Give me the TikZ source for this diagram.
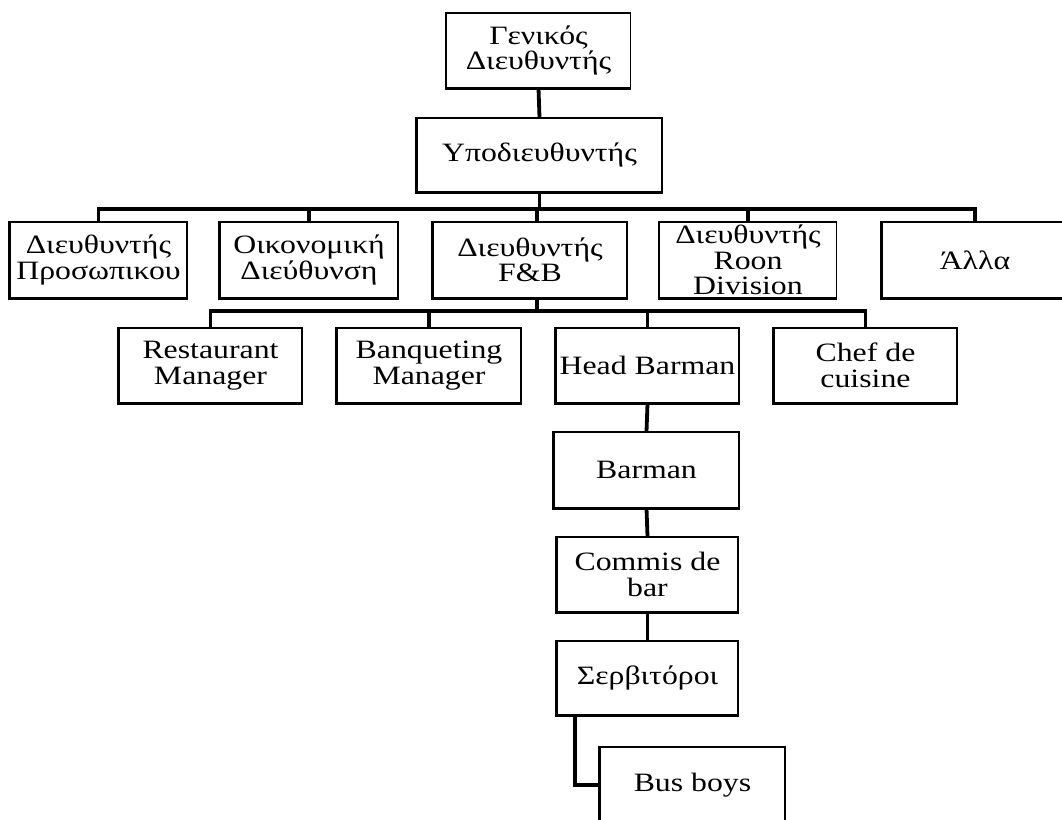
\documentclass[tikz,border=0pt]{standalone}
\usepackage{fontspec}
\setmainfont{Liberation Serif}[FakeStretch=1.2]
\begin{document}
\begin{tikzpicture}[x=1pt,y=-1pt,
  box/.style={draw, line width=1.2pt, align=center, inner sep=0pt,
    font=\fontsize{26.5}{25.5}\selectfont},
  conn/.style={line width=3.8pt},
  shade/.style={line width=2.6pt}]
\useasboundingbox (0,0) rectangle (1062,819);
\clip (0,0) rectangle (1062,819);
% level 0-1
\node[box, minimum width=184pt, minimum height=75pt] (gm) at (538.5,50.5) {Γενικός\\Διευθυντής};
\node[box, minimum width=245pt, minimum height=74pt] (sub) at (539.5,155) {Υποδιευθυντής};
% level 2
\node[box, minimum width=177pt, minimum height=76pt] (hr) at (98.5,260) {Διευθυντής\\Προσωπικου};
\node[box, minimum width=178pt, minimum height=76pt] (fin) at (309,260) {Οικονομική\\Διεύθυνση};
\node[box, minimum width=194pt, minimum height=76pt] (fb) at (530,260) {Διευθυντής\\F\&B};
\node[box, minimum width=177pt, minimum height=76pt] (roon) at (748,260) {Διευθυντής\\Roon\\Division};
\node[box, minimum width=186pt, minimum height=76pt] (alla) at (975,260) {Άλλα};
% level 3
\node[box, minimum width=183pt, minimum height=75pt] (rest) at (210.5,365.5) {Restaurant\\Manager};
\node[box, minimum width=184pt, minimum height=75pt] (banq) at (429,365.5) {Banqueting\\Manager};
\node[box, minimum width=183pt, minimum height=75pt] (head) at (647.5,365.5) {Head Barman};
\node[box, minimum width=183pt, minimum height=75pt] (chef) at (865.5,365.5) {Chef de\\cuisine};
% chain
\node[box, minimum width=185pt, minimum height=76pt] (barman) at (646.5,470) {Barman};
\node[box, minimum width=181pt, minimum height=75pt] (commis) at (647.5,574.5) {Commis de\\bar};
\node[box, minimum width=181pt, minimum height=74pt] (serv) at (647.5,678) {Σερβιτόροι};
\node[box, minimum width=185pt, minimum height=76pt] (bus) at (692.5,785) {Bus boys};
% box shading (left and bottom edges)
\foreach \n in {gm,sub,hr,fin,fb,roon,alla,rest,banq,head,chef,barman,commis,serv}
  \draw[shade] (\n.north west) |- (\n.south east);
\draw[shade] (bus.north west) -- (bus.south west);
% connectors
\coordinate (b2) at (0,209);
\coordinate (b3) at (0,311);
\draw[conn] (gm.south) -- (sub.north);
\draw[conn] (sub.south) -- (sub.south |- b2);
\draw[conn] (hr.north) |- (b2 -| alla.north) -- (alla.north);
\draw[conn] (fin.north) -- (fin.north |- b2);
\draw[conn] ([xshift=7pt]fb.north) -- ([xshift=7pt]fb.north |- b2);
\draw[conn] (roon.north) -- (roon.north |- b2);
\draw[conn] ([xshift=7pt]fb.south) -- ([xshift=7pt]fb.south |- b3);
\draw[conn] (rest.north) |- (b3 -| chef.north) -- (chef.north);
\draw[conn] (banq.north) -- (banq.north |- b3);
\draw[conn] (head.north) -- (head.north |- b3);
\draw[conn] (head.south) -- (barman.north);
\draw[conn] (barman.south) -- (commis.north);
\draw[conn] (commis.south) -- (serv.north);
\draw[conn] ([xshift=-72.5pt]serv.south) |- (bus.west);
\end{tikzpicture}
\end{document}
